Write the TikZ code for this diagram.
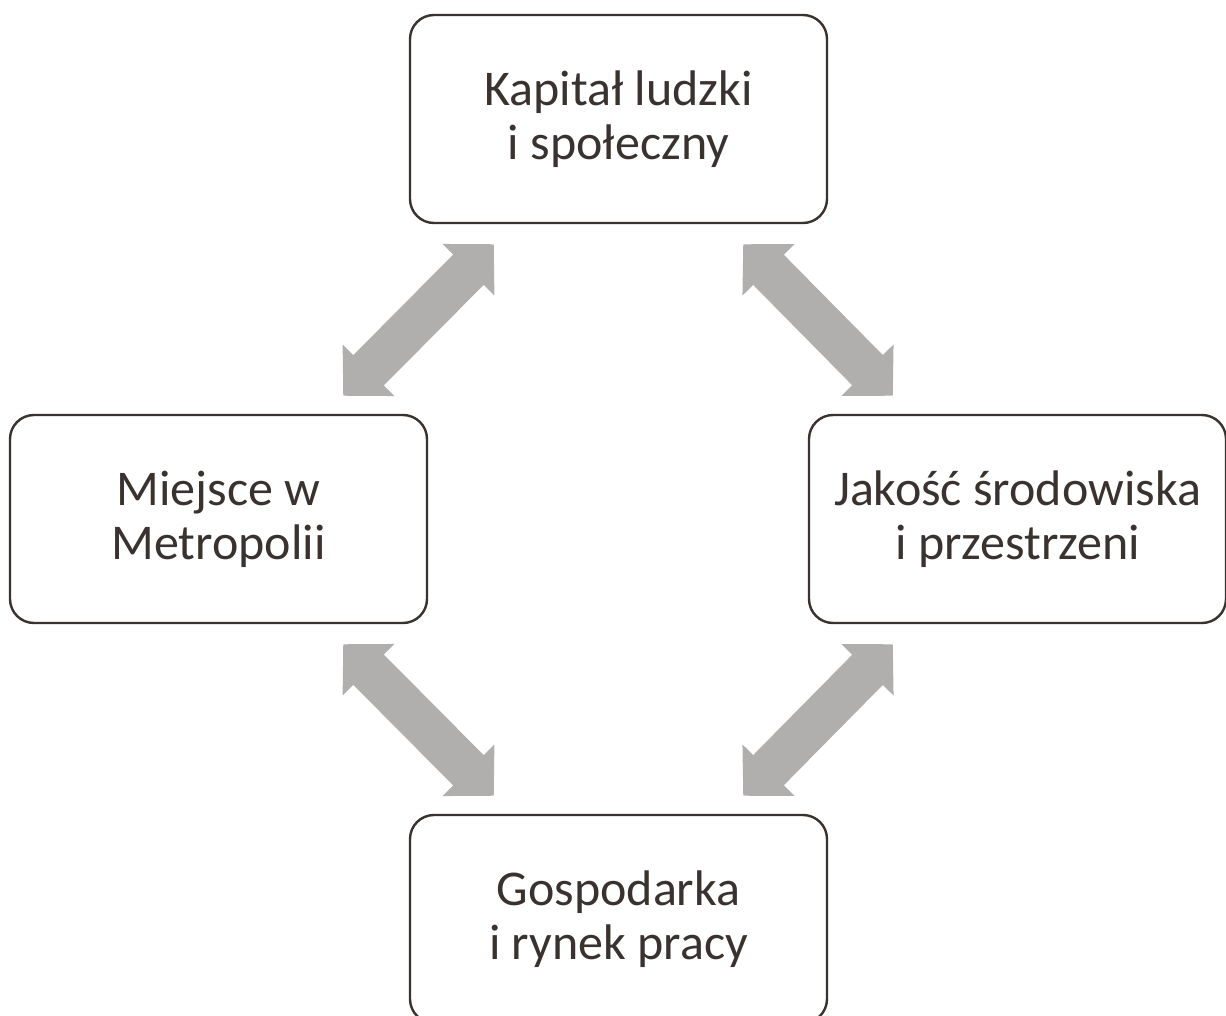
\documentclass[tikz,border=0pt]{standalone}
\usepackage{fontspec}
\setmainfont{Carlito}
\usepackage{xcolor}
\usetikzlibrary{calc,arrows.meta}

\definecolor{boxline}{RGB}{58,50,46}
\definecolor{arrowgray}{RGB}{176,175,173}

\begin{document}
\begin{tikzpicture}[x=0.5pt, y=-0.5pt,
    area/.style={draw=boxline, line width=1.2pt, rounded corners=12pt, fill=white,
        minimum width=208.5pt, minimum height=104pt, align=center, text=boxline,
        font=\fontsize{25}{27}\selectfont},
    link/.style={draw=arrowgray, line width=21.5pt, line cap=butt,
        {Triangle[length=18pt, width=35.5pt]}-{Triangle[length=18pt, width=35.5pt]}}]
    \useasboundingbox (0,0) rectangle (1226,1016);

    % Boxes
    \node[area] (kapital) at (618.5,119) {Kapitał ludzki\\i społeczny};
    \node[area] (miejsce) at (218.5,519) {Miejsce w\\Metropolii};
    \node[area] (jakosc) at (1017.5,519) {Jakość środowiska\\i przestrzeni};
    \node[area] (gospodarka) at (618.5,919) {Gospodarka\\i rynek pracy};

    % Connections
    \draw[link] ($(kapital.south west)+(85,20)$) -- ($(miejsce.north east)+(-85,-18)$);
    \draw[link] ($(kapital.south east)+(-85,20)$) -- ($(jakosc.north west)+(85,-18)$);
    \draw[link] ($(miejsce.south east)+(-85,20)$) -- ($(gospodarka.north west)+(85,-18)$);
    \draw[link] ($(jakosc.south west)+(85,20)$) -- ($(gospodarka.north east)+(-85,-18)$);
\end{tikzpicture}
\end{document}
